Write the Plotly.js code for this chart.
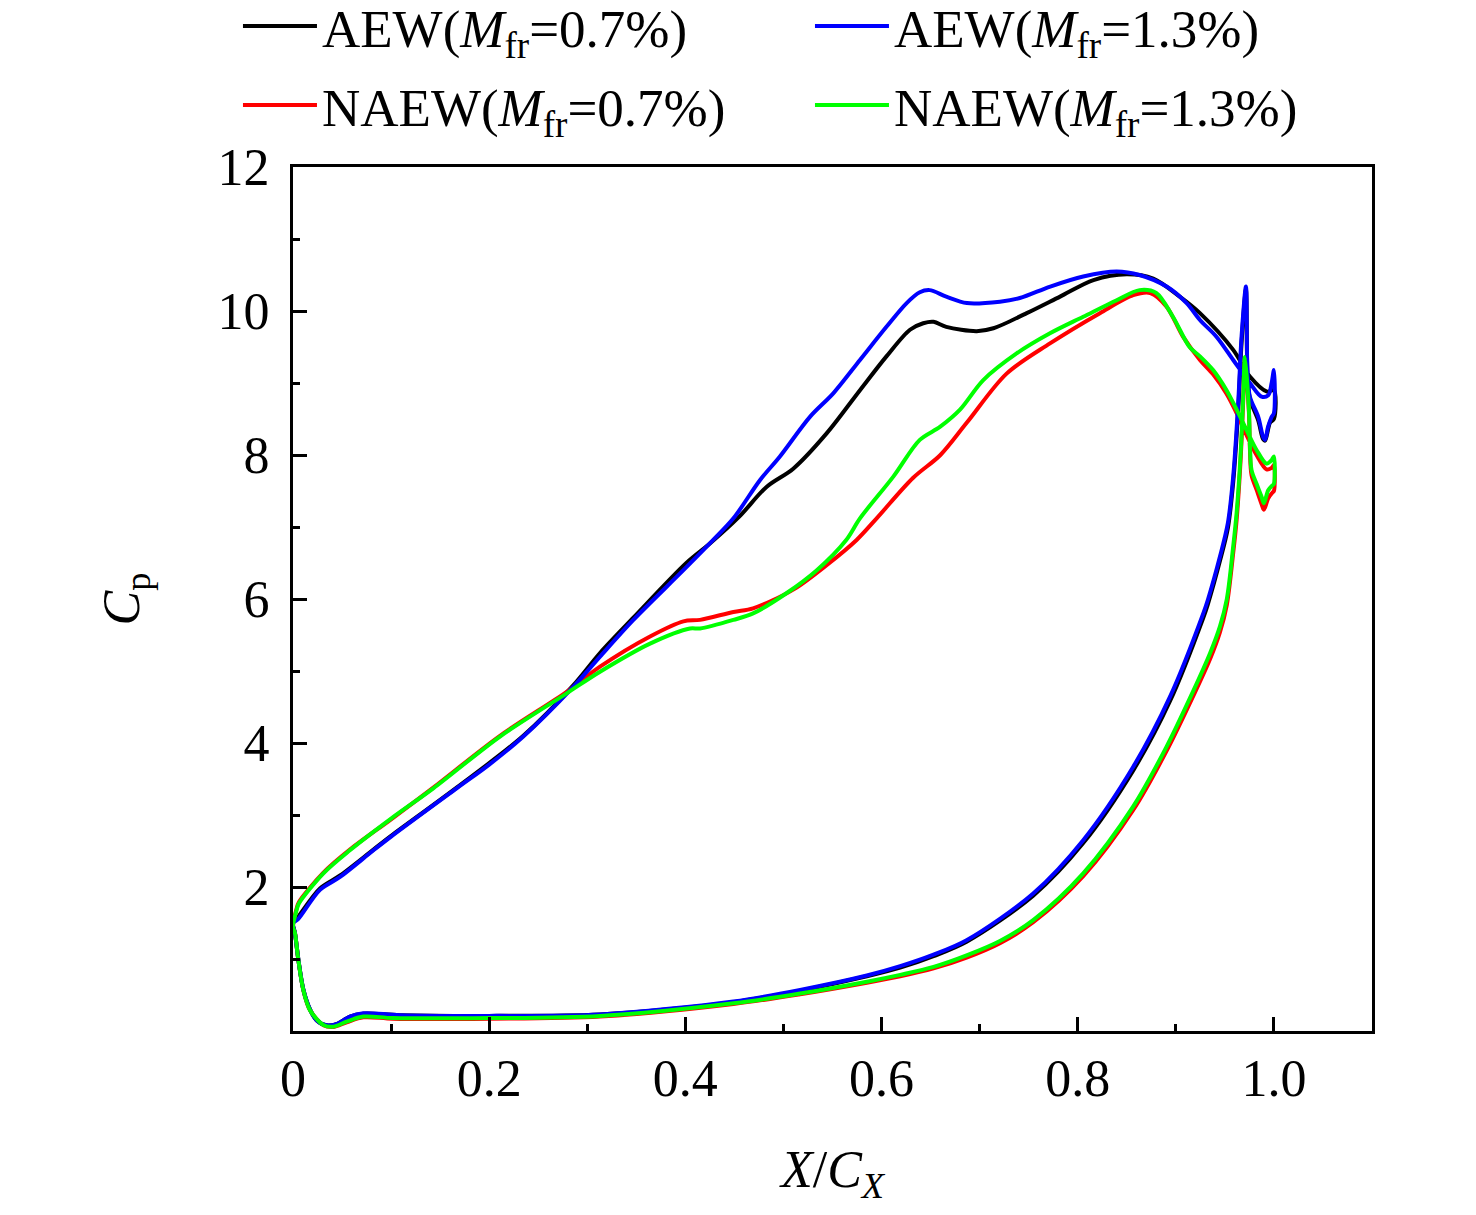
<!DOCTYPE html>
<html>
<head>
<meta charset="utf-8">
<script src="https://cdn.plot.ly/plotly-3.0.1.min.js"></script>
<style>
  html, body { margin: 0; padding: 0; background: #fff; }
  #chart { width: 1476px; height: 1215px; }
</style>
</head>
<body>
<div id="chart"></div>
<script>
// Cp distributions. Each curve: suction side LE -> TE, then pressure side TE -> LE.

// AEW, Mfr = 0.7% (black)
const aew07UpperX = [0, 0.005, 0.0275, 0.048, 0.082, 0.10, 0.1668, 0.2348, 0.2857, 0.313, 0.347, 0.401, 0.425, 0.4547, 0.483, 0.510, 0.544, 0.578, 0.605, 0.629, 0.6425, 0.653, 0.666, 0.697, 0.714, 0.748, 0.782, 0.816, 0.850, 0.877, 0.904, 0.9246, 0.9585, 0.9755, 0.993, 1.0];
const aew07UpperCp = [1.50, 1.58, 1.98, 2.16, 2.52, 2.71, 3.38, 4.10, 4.80, 5.25, 5.74, 6.50, 6.77, 7.14, 7.56, 7.81, 8.30, 8.90, 9.37, 9.74, 9.83, 9.85, 9.78, 9.72, 9.76, 9.97, 10.20, 10.43, 10.51, 10.45, 10.20, 9.97, 9.46, 9.09, 8.88, 8.90];
const aew07LowerX = [1.0, 0.996, 0.991, 0.989, 0.984, 0.9755, 0.973, 0.9715, 0.967, 0.9636, 0.9585, 0.953, 0.945, 0.9327, 0.928, 0.894, 0.8566, 0.8056, 0.7546, 0.6867, 0.653, 0.619, 0.585, 0.517, 0.449, 0.313, 0.20, 0.109, 0.0717, 0.058, 0.045, 0.034, 0.024, 0.0173, 0.0105, 0.0054, 0.002, 0];
const aew07LowerCp = [8.50, 8.45, 8.20, 8.22, 8.48, 8.78, 9.15, 10.30, 9.55, 8.62, 7.62, 6.98, 6.53, 5.93, 5.74, 4.58, 3.62, 2.61, 1.88, 1.24, 1.04, 0.88, 0.76, 0.56, 0.40, 0.23, 0.21, 0.22, 0.24, 0.20, 0.10, 0.08, 0.15, 0.30, 0.58, 1.00, 1.36, 1.50];

// AEW, Mfr = 1.3% (blue)
const aew13UpperX = [0, 0.005, 0.0275, 0.048, 0.082, 0.10, 0.1668, 0.20, 0.2348, 0.2857, 0.313, 0.347, 0.398, 0.4284, 0.449, 0.476, 0.4964, 0.527, 0.551, 0.578, 0.605, 0.6256, 0.639, 0.649, 0.666, 0.687, 0.7207, 0.741, 0.772, 0.8056, 0.8397, 0.863, 0.8906, 0.911, 0.9246, 0.9416, 0.9585, 0.9755, 0.9874, 0.9942, 0.9977, 1.0];
const aew13UpperCp = [1.50, 1.55, 1.96, 2.14, 2.51, 2.70, 3.37, 3.70, 4.09, 4.78, 5.20, 5.71, 6.40, 6.82, 7.12, 7.65, 7.98, 8.53, 8.86, 9.32, 9.78, 10.11, 10.26, 10.29, 10.20, 10.11, 10.13, 10.18, 10.34, 10.48, 10.55, 10.50, 10.34, 10.11, 9.875, 9.64, 9.32, 9.00, 8.81, 8.83, 9.00, 9.18];
const aew13LowerX = [1.0, 0.9977, 0.994, 0.991, 0.989, 0.984, 0.9755, 0.973, 0.9715, 0.967, 0.9636, 0.9585, 0.953, 0.945, 0.9327, 0.928, 0.894, 0.8566, 0.8056, 0.7546, 0.6867, 0.653, 0.619, 0.585, 0.517, 0.449, 0.313, 0.20, 0.109, 0.0717, 0.058, 0.045, 0.034, 0.024, 0.0173, 0.0105, 0.0054, 0.002, 0];
const aew13LowerCp = [8.58, 8.53, 8.39, 8.21, 8.25, 8.53, 8.81, 9.18, 10.34, 9.64, 8.72, 7.70, 7.05, 6.59, 5.99, 5.80, 4.64, 3.67, 2.65, 1.91, 1.26, 1.06, 0.90, 0.77, 0.57, 0.41, 0.23, 0.21, 0.22, 0.245, 0.20, 0.10, 0.08, 0.15, 0.30, 0.58, 1.00, 1.36, 1.50];

// NAEW, Mfr = 0.7% (red)
const naew07UpperX = [0, 0.0037, 0.006, 0.031, 0.058, 0.10, 0.143, 0.211, 0.279, 0.313, 0.364, 0.398, 0.415, 0.449, 0.469, 0.510, 0.544, 0.5746, 0.595, 0.632, 0.660, 0.687, 0.7275, 0.7717, 0.8226, 0.8566, 0.874, 0.8906, 0.9075, 0.9246, 0.938, 0.9517, 0.962, 0.972, 0.9823, 0.9925, 0.9977, 1.0];
const naew07UpperCp = [1.45, 1.70, 1.79, 2.20, 2.52, 2.94, 3.38, 4.10, 4.71, 5.06, 5.48, 5.69, 5.71, 5.82, 5.87, 6.13, 6.47, 6.82, 7.12, 7.68, 8.00, 8.45, 9.13, 9.55, 9.97, 10.22, 10.25, 10.06, 9.64, 9.32, 9.12, 8.85, 8.58, 8.28, 8.00, 7.80, 7.82, 7.86];
const naew07LowerX = [1.0, 0.9986, 0.9942, 0.9898, 0.9874, 0.9823, 0.9772, 0.9755, 0.9745, 0.9705, 0.9687, 0.966, 0.962, 0.9585, 0.952, 0.945, 0.935, 0.9177, 0.8906, 0.8566, 0.8056, 0.7546, 0.7207, 0.6867, 0.653, 0.619, 0.585, 0.517, 0.449, 0.313, 0.20, 0.102, 0.0717, 0.0547, 0.041, 0.031, 0.0173, 0.0105, 0.0054, 0.002, 0];
const naew07LowerCp = [7.50, 7.48, 7.40, 7.24, 7.32, 7.52, 7.72, 8.10, 8.60, 9.32, 8.75, 7.92, 7.10, 6.64, 5.92, 5.54, 5.17, 4.65, 3.89, 3.07, 2.15, 1.51, 1.22, 1.02, 0.87, 0.76, 0.67, 0.51, 0.375, 0.20, 0.17, 0.17, 0.19, 0.12, 0.055, 0.08, 0.29, 0.57, 0.99, 1.36, 1.45];

// NAEW, Mfr = 1.3% (green)
const naew13UpperX = [0, 0.0037, 0.006, 0.031, 0.058, 0.10, 0.143, 0.211, 0.279, 0.313, 0.364, 0.4047, 0.415, 0.449, 0.469, 0.503, 0.534, 0.564, 0.578, 0.612, 0.639, 0.6595, 0.680, 0.7037, 0.7377, 0.7717, 0.8056, 0.8397, 0.863, 0.880, 0.897, 0.914, 0.9246, 0.938, 0.9517, 0.962, 0.972, 0.9823, 0.9925, 0.9977, 1.0];
const naew13UpperCp = [1.45, 1.68, 1.77, 2.19, 2.51, 2.95, 3.37, 4.09, 4.69, 4.99, 5.38, 5.59, 5.59, 5.71, 5.80, 6.08, 6.40, 6.82, 7.12, 7.70, 8.21, 8.39, 8.63, 9.04, 9.41, 9.69, 9.92, 10.15, 10.29, 10.25, 9.92, 9.50, 9.37, 9.18, 8.90, 8.63, 8.35, 8.07, 7.88, 7.93, 7.98];
const naew13LowerX = [1.0, 0.9986, 0.9942, 0.9898, 0.9874, 0.9823, 0.9772, 0.9755, 0.9745, 0.9705, 0.9687, 0.966, 0.962, 0.9585, 0.952, 0.945, 0.935, 0.9177, 0.8906, 0.8566, 0.8056, 0.7546, 0.7207, 0.6867, 0.653, 0.619, 0.585, 0.517, 0.449, 0.313, 0.20, 0.102, 0.0717, 0.0547, 0.041, 0.031, 0.0173, 0.0105, 0.0054, 0.002, 0];
const naew13LowerCp = [7.60, 7.58, 7.51, 7.33, 7.42, 7.60, 7.79, 8.16, 8.63, 9.36, 8.81, 8.00, 7.20, 6.73, 6.00, 5.62, 5.25, 4.72, 3.95, 3.12, 2.19, 1.54, 1.25, 1.05, 0.89, 0.78, 0.685, 0.52, 0.385, 0.21, 0.18, 0.18, 0.20, 0.13, 0.06, 0.083, 0.29, 0.57, 0.99, 1.36, 1.45];

// axis ticks
const xTickVals = [0, 0.2, 0.4, 0.6, 0.8, 1.0];
const xTickText = ['0', '0.2', '0.4', '0.6', '0.8', '1.0'];
const xMinorVals = [0.1, 0.3, 0.5, 0.7, 0.9, 1.1];
const yTickVals = [0, 2, 4, 6, 8, 10, 12];
const yTickText = ['', '2', '4', '6', '8', '10', '12'];
const yMinorVals = [1, 3, 5, 7, 9, 11];

const FONT = '"Liberation Serif", "Times New Roman", serif';

function curve(name, upperX, upperCp, lowerX, lowerCp, color, legend) {
    return {
        x: upperX.concat(lowerX),
        y: upperCp.concat(lowerCp),
        name: name,
        type: 'scatter',
        mode: 'lines',
        line: { color: color, width: 4, shape: 'spline', smoothing: 0.9 },
        legend: legend,
        hoverinfo: 'skip'
    };
}

// draw order: black, red, blue, green (green/blue sit on top)
const traces = [
    curve('AEW(<i>M</i><sub>fr</sub>=0.7%)', aew07UpperX, aew07UpperCp, aew07LowerX, aew07LowerCp, '#000000', 'legend'),
    curve('NAEW(<i>M</i><sub>fr</sub>=0.7%)', naew07UpperX, naew07UpperCp, naew07LowerX, naew07LowerCp, '#ff0000', 'legend2'),
    curve('AEW(<i>M</i><sub>fr</sub>=1.3%)', aew13UpperX, aew13UpperCp, aew13LowerX, aew13LowerCp, '#0000ff', 'legend'),
    curve('NAEW(<i>M</i><sub>fr</sub>=1.3%)', naew13UpperX, naew13UpperCp, naew13LowerX, naew13LowerCp, '#00ff00', 'legend2')
];

// one legend per row, both above the plot (margins are fixed, so they do not push it)
const legendRow = y => ({
    orientation: 'h',
    x: -0.051,
    xanchor: 'left',
    y: y,
    yanchor: 'middle',
    font: { family: FONT, size: 53, color: '#000' },
    bgcolor: 'rgba(0,0,0,0)',
    itemwidth: 74,
    entrywidth: 483,
    entrywidthmode: 'pixels',
    traceorder: 'normal'
});

const axisCommon = {
    showline: true,
    linewidth: 3,
    linecolor: '#000',
    mirror: true,
    ticks: 'inside',
    ticklen: 14,
    tickwidth: 3,
    tickcolor: '#000',
    showgrid: false,
    zeroline: false,
    tickmode: 'array',
    tickfont: { family: FONT, size: 52, color: '#000' },
    automargin: false,
    fixedrange: true
};

const layout = {
    width: 1476,
    height: 1215,
    margin: { l: 293, r: 104, t: 167, b: 184, pad: 0, autoexpand: false },
    paper_bgcolor: '#ffffff',
    plot_bgcolor: '#ffffff',
    font: { family: FONT, color: '#000' },
    showlegend: true,
    legend: legendRow((1031 - 26) / 864),
    legend2: legendRow((1031 - 105) / 864),
    xaxis: Object.assign({}, axisCommon, {
        range: [0, 1.1],
        tickvals: xTickVals,
        ticktext: xTickText,
        minor: { tickmode: 'array', tickvals: xMinorVals, ticks: 'inside', ticklen: 7, tickwidth: 3, tickcolor: '#000' },
        title: { text: '<i>X</i>/<i>C</i><sub><i>X</i></sub>', font: { family: FONT, size: 52, color: '#000' }, standoff: 45 }
    }),
    yaxis: Object.assign({}, axisCommon, {
        range: [0, 12],
        tickvals: yTickVals,
        ticktext: yTickText,
        ticklabelstandoff: 10,
        minor: { tickmode: 'array', tickvals: yMinorVals, ticks: 'inside', ticklen: 7, tickwidth: 3, tickcolor: '#000' },
        title: { text: '<i>C</i><sub>p</sub>', font: { family: FONT, size: 52, color: '#000' }, standoff: 62 }
    })
};

Plotly.newPlot('chart', traces, layout, { displayModeBar: false, staticPlot: true });
</script>
</body>
</html>
